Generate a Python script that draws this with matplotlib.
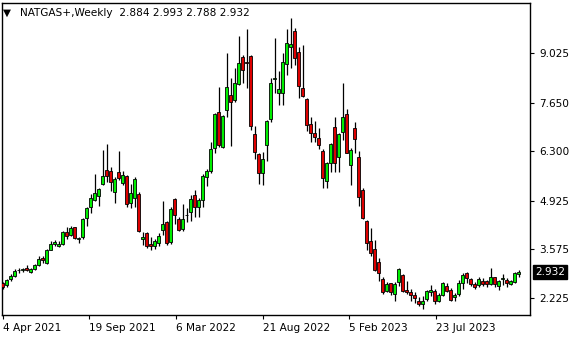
import matplotlib
matplotlib.use("Agg")
import matplotlib.pyplot as plt
import numpy as np

# weekly OHLC (first bar = 4 Apr 2021)
opens = [2.63, 2.58, 2.74, 2.83, 2.99, 3.00, 3.06, 2.94, 3.03, 3.14,
         3.34, 3.20, 3.55, 3.72, 3.66, 3.71, 4.04, 3.98, 4.18, 3.87,
         3.90, 4.44, 4.74, 4.94, 5.06, 5.40, 5.78, 5.75, 5.16, 5.71,
         5.43, 5.61, 4.85, 4.99, 5.10, 3.85, 4.02, 3.71, 3.67, 3.74,
         4.11, 4.32, 3.77, 4.97, 4.41, 4.13, 4.52, 4.62, 5.07, 4.74,
         4.94, 5.59, 5.76, 6.40, 7.38, 6.43, 7.45, 7.86, 7.73, 8.17,
         8.91, 8.78, 8.95, 6.77, 6.22, 5.69, 6.48, 7.19, 8.32, 7.91,
         7.91, 8.72, 9.19, 9.65, 9.05, 8.05, 7.75, 7.05, 6.80, 6.68,
         6.31, 5.48, 5.96, 6.98, 6.13, 6.83, 7.33, 5.92, 6.94, 6.15,
         5.22, 4.37, 3.81, 3.57, 3.23, 2.74, 2.42, 2.63, 2.32, 2.67,
         2.86, 2.44, 2.38, 2.30, 2.12, 2.04, 2.18, 2.38, 2.42, 2.14,
         2.30, 2.55, 2.44, 2.23, 2.32, 2.63, 2.90, 2.74, 2.61, 2.57,
         2.70, 2.69, 2.60, 2.79, 2.56, 2.75, 2.72, 2.61, 2.65, 2.884]
highs = [2.67, 2.75, 2.89, 3.02, 3.04, 3.06, 3.14, 3.06, 3.16, 3.39,
         3.39, 3.57, 3.81, 3.84, 3.79, 4.08, 4.18, 4.22, 4.20, 3.92,
         4.44, 4.76, 5.10, 5.67, 5.29, 6.34, 6.49, 5.87, 5.57, 6.31,
         5.75, 5.64, 5.38, 5.57, 5.16, 4.06, 4.06, 3.90, 3.86, 4.02,
         4.92, 4.36, 4.76, 4.99, 4.48, 4.83, 4.71, 5.08, 5.22, 4.99,
         5.66, 5.81, 6.57, 7.36, 8.10, 7.31, 9.04, 8.33, 8.61, 9.51,
         8.98, 9.70, 8.98, 6.99, 6.26, 6.29, 7.17, 8.33, 9.44, 8.52,
         9.04, 9.70, 10.00, 9.72, 9.19, 9.26, 7.77, 7.24, 7.14, 6.94,
         6.35, 6.01, 6.54, 7.26, 6.82, 8.21, 7.47, 6.38, 7.10, 6.32,
         5.27, 4.39, 4.16, 3.83, 3.32, 2.81, 2.67, 2.64, 2.67, 3.06,
         2.89, 2.69, 2.46, 2.37, 2.24, 2.26, 2.44, 2.57, 2.46, 2.35,
         2.66, 2.64, 2.49, 2.35, 2.72, 2.90, 2.95, 2.77, 2.67, 2.81,
         2.77, 2.72, 3.04, 2.81, 2.72, 2.88, 2.77, 2.72, 2.95, 2.993]
lows = [2.46, 2.53, 2.70, 2.79, 2.92, 2.94, 2.96, 2.90, 3.00, 3.11,
        3.20, 3.16, 3.54, 3.66, 3.63, 3.68, 3.85, 3.94, 3.85, 3.76,
        3.87, 4.22, 4.57, 4.92, 4.79, 5.36, 5.45, 5.18, 4.85, 5.50,
        5.36, 4.76, 4.73, 4.74, 4.04, 3.69, 3.60, 3.55, 3.58, 3.67,
        3.97, 3.69, 3.71, 4.27, 4.09, 4.09, 4.34, 4.36, 4.48, 4.48,
        4.76, 5.32, 5.69, 6.26, 6.43, 6.38, 7.24, 6.45, 7.68, 8.14,
        8.19, 8.05, 6.89, 6.08, 5.38, 5.36, 6.04, 7.10, 7.91, 7.59,
        7.59, 8.42, 8.61, 8.70, 7.77, 7.80, 6.87, 6.57, 6.57, 6.35,
        5.27, 5.27, 5.73, 5.73, 5.73, 6.60, 6.24, 5.36, 6.24, 4.78,
        4.41, 3.54, 3.39, 2.98, 2.70, 2.33, 2.37, 2.30, 2.12, 2.55,
        2.37, 2.33, 2.13, 2.07, 2.00, 1.90, 2.12, 2.26, 2.05, 2.11,
        2.26, 2.37, 2.14, 2.13, 2.26, 2.46, 2.63, 2.55, 2.46, 2.53,
        2.56, 2.51, 2.58, 2.53, 2.44, 2.58, 2.53, 2.58, 2.63, 2.788]
closes = [2.52, 2.72, 2.83, 2.98, 3.00, 3.02, 3.00, 3.03, 3.14, 3.30,
          3.26, 3.54, 3.72, 3.77, 3.73, 4.05, 3.94, 4.16, 3.88, 3.89,
          4.42, 4.71, 4.99, 5.13, 5.25, 5.61, 5.62, 5.44, 5.52, 5.55,
          5.64, 4.82, 5.13, 5.54, 4.09, 3.91, 3.66, 3.65, 3.80, 3.94,
          4.28, 3.74, 4.69, 4.53, 4.11, 4.41, 4.53, 4.96, 4.74, 4.94,
          5.62, 5.75, 6.35, 7.33, 6.48, 7.29, 8.08, 7.66, 8.19, 8.75,
          8.56, 8.76, 7.00, 6.27, 5.69, 6.08, 7.14, 8.21, 8.34, 8.03,
          8.79, 9.30, 9.28, 8.90, 8.12, 7.85, 7.03, 6.80, 6.69, 6.48,
          5.55, 5.96, 6.50, 5.96, 6.77, 7.24, 6.26, 6.34, 6.63, 5.02,
          4.45, 3.74, 3.48, 3.00, 2.90, 2.38, 2.60, 2.37, 2.60, 3.02,
          2.42, 2.37, 2.30, 2.21, 2.04, 2.13, 2.41, 2.44, 2.12, 2.30,
          2.63, 2.42, 2.16, 2.30, 2.64, 2.86, 2.78, 2.60, 2.53, 2.74,
          2.61, 2.60, 2.79, 2.60, 2.69, 2.77, 2.62, 2.70, 2.90, 2.932]

x_tick_pos = [0, 21.65, 43.3, 65.0, 86.65, 108.3]
x_tick_labels = ["4 Apr 2021", "19 Sep 2021", "6 Mar 2022", "21 Aug 2022", "5 Feb 2023", "23 Jul 2023"]
y_ticks = [2.225, 3.575, 4.925, 6.300, 7.650, 9.025]
y_tick_labels = ["2.225", "3.575", "4.925", "6.300", "7.650", "9.025"]
title = "NATGAS+,Weekly  2.884 2.993 2.788 2.932"
last_price = 2.932

plt.rcParams['font.family'] = ['DejaVu Sans']
FS = 7.6

fig = plt.figure(figsize=(5.8, 3.4), dpi=100)
fig.patch.set_facecolor('white')
ax = fig.add_axes([2/580, (340-315)/340, (529.7-2)/580, (315-3)/340])

o = np.array(opens); h = np.array(highs); l = np.array(lows); c = np.array(closes)
xs = np.arange(len(o))
up = c >= o
colors = np.where(up, '#00ee00', '#dd0000')

ax.vlines(xs, l, h, color='black', linewidth=0.9, zorder=2)
ax.bar(xs, np.abs(c - o), bottom=np.minimum(o, c), width=0.72,
       color=colors, edgecolor='black', linewidth=0.6, zorder=3)

ax.set_xlim(-0.2, 131.75)
ax.set_ylim(1.743, 10.425)

for s in ax.spines.values():
    s.set_color('black'); s.set_linewidth(1.0)

ax.yaxis.tick_right()
ax.set_yticks(y_ticks)
ax.set_yticklabels(y_tick_labels, fontsize=FS)
ax.tick_params(axis='y', length=3, width=0.8, pad=4, direction='out')
ax.set_xticks(x_tick_pos)
ax.set_xticklabels(x_tick_labels, fontsize=FS, ha='left')
ax.tick_params(axis='x', length=3, width=0.8, pad=3, direction='out')

ax.annotate(f"{last_price:.3f}", xy=(1.0, last_price), xycoords=('axes fraction', 'data'),
            xytext=(4, 0), textcoords='offset points', ha='left', va='center',
            fontsize=FS, color='white',
            bbox=dict(boxstyle='square,pad=0.2', fc='black', ec='black'),
            annotation_clip=False)

fig.text(3/580, 1 - 13/340, "\u25bc", fontsize=7.5, va='center', ha='left')
fig.text(20/580, 1 - 13/340, title, fontsize=FS, va='center', ha='left')

fig.savefig("out.png", dpi=100)
